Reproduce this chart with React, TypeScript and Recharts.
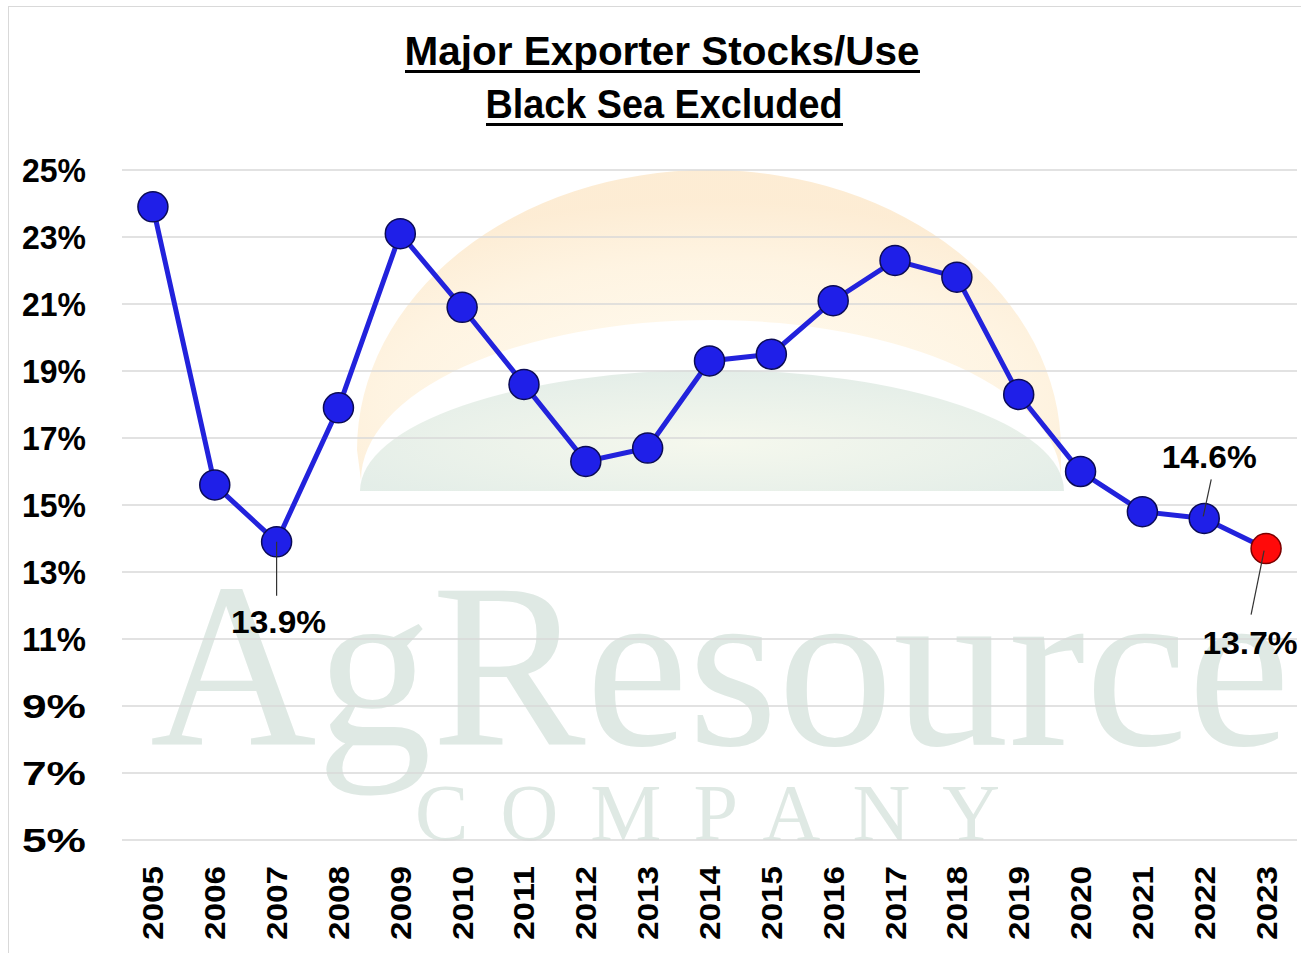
import { LineChart, Line, XAxis, YAxis, CartesianGrid, LabelList } from "recharts";

const years = [
  "2005", "2006", "2007", "2008", "2009", "2010", "2011", "2012", "2013", "2014",
  "2015", "2016", "2017", "2018", "2019", "2020", "2021", "2022", "2023",
];
const stocksUse = [
  23.9, 15.6, 13.9, 17.9, 23.1, 20.9, 18.6, 16.3, 16.7, 19.3,
  19.5, 21.1, 22.3, 21.8, 18.3, 16.0, 14.8, 14.6, 13.7,
];
const yTicks = [5, 7, 9, 11, 13, 15, 17, 19, 21, 23, 25];
const highlightYear = "2023";
const calloutYears = ["2007", "2022", "2023"];

const data = years.map((year, i) => ({ year, value: stocksUse[i] }));

const FONT = "'Liberation Sans', Arial, sans-serif";

// where each callout's text and leader sit, relative to its point
const calloutPlacement: Record<string, { dx: number; dy: number; l1: number[]; l2: number[] }> = {
  "2007": { dx: 2, dy: 80, l1: [0, 0], l2: [0, 54] },
  "2022": { dx: 5, dy: -61, l1: [7, -39], l2: [-1, -2] },
  "2023": { dx: -16, dy: 94, l1: [-2, 2], l2: [-15, 66] },
};

const YearTick = (props: any) => {
  const { x, y, payload } = props;
  return (
    <text
      transform={`translate(${x},${y}) rotate(-90)`}
      textAnchor="end"
      dominantBaseline="central"
      fontFamily={FONT}
      fontWeight={700}
      fontSize={30}
      fill="#000"
      textLength={74}
      lengthAdjust="spacingAndGlyphs"
    >
      {payload.value}
    </text>
  );
};

const PctTick = (props: any) => {
  const { x, y, payload } = props;
  return (
    <text
      x={x}
      y={y}
      textAnchor="end"
      dominantBaseline="central"
      fontFamily={FONT}
      fontWeight={700}
      fontSize={33}
      fill="#000"
      textLength={64}
      lengthAdjust="spacingAndGlyphs"
    >
      {payload.value}%
    </text>
  );
};

const Marker = (props: any) => {
  const { cx, cy, payload } = props;
  if (cx == null || cy == null) return null;
  const hot = payload.year === highlightYear;
  return (
    <circle
      key={payload.year}
      cx={cx}
      cy={cy}
      r={15}
      fill={hot ? "#ff0a0a" : "#1f1fe8"}
      stroke={hot ? "#7a0000" : "#0b0b55"}
      strokeWidth={1.5}
    />
  );
};

const Callout = (props: any) => {
  const { x, y, value, index } = props;
  const year = years[index];
  if (!calloutYears.includes(year)) return null;
  const p = calloutPlacement[year];
  return (
    <g>
      <line
        x1={x + p.l1[0]}
        y1={y + p.l1[1]}
        x2={x + p.l2[0]}
        y2={y + p.l2[1]}
        stroke="#333"
        strokeWidth={1.2}
      />
      <text
        x={x + p.dx}
        y={y + p.dy}
        textAnchor="middle"
        dominantBaseline="central"
        fontFamily={FONT}
        fontWeight={700}
        fontSize={32}
        fill="#000"
        textLength={95}
        lengthAdjust="spacingAndGlyphs"
      >
        {Number(value).toFixed(1)}%
      </text>
    </g>
  );
};

const Backdrop = () => (
  <svg width={1301} height={953} style={{ position: "absolute", left: 0, top: 0 }}>
    <defs>
      <radialGradient id="sun" cx="50%" cy="75%" r="65%">
        <stop offset="0%" stopColor="#fffbee" />
        <stop offset="70%" stopColor="#fef0d8" />
        <stop offset="100%" stopColor="#fce6c6" />
      </radialGradient>
      <radialGradient id="hill" cx="50%" cy="60%" r="60%">
        <stop offset="0%" stopColor="#f1f5e6" />
        <stop offset="100%" stopColor="#d8e6de" />
      </radialGradient>
    </defs>
    <rect x={8.5} y={6.5} width={1300} height={960} fill="#fff" stroke="#d9d9d9" />
    <path
      d="M 357 450 A 352 280 0 0 1 1061 450 L 1061 480 A 350 160 0 0 0 361 480 Z"
      fill="url(#sun)"
      opacity={0.75}
    />
    <path d="M 360 491 A 352 121 0 0 1 1064 491 Z" fill="url(#hill)" opacity={0.7} />
    <text
      x={150}
      y={745}
      fontFamily="'Liberation Serif', 'DejaVu Serif', serif"
      fontSize={235}
      fill="#dfe9e4"
      textLength={1140}
      lengthAdjust="spacingAndGlyphs"
    >
      AgResource
    </text>
    <text
      x={415}
      y={840}
      fontFamily="'Liberation Serif', 'DejaVu Serif', serif"
      fontSize={80}
      fill="#dfe9e4"
      textLength={585}
      lengthAdjust="spacing"
    >
      COMPANY
    </text>
    <text
      x={662}
      y={65}
      textAnchor="middle"
      fontFamily={FONT}
      fontWeight={700}
      fontSize={40}
      fill="#000"
      textLength={515}
      lengthAdjust="spacingAndGlyphs"
    >
      Major Exporter Stocks/Use
    </text>
    <rect x={405} y={70} width={515} height={3} fill="#000" />
    <text
      x={664}
      y={118}
      textAnchor="middle"
      fontFamily={FONT}
      fontWeight={700}
      fontSize={40}
      fill="#000"
      textLength={357}
      lengthAdjust="spacingAndGlyphs"
    >
      Black Sea Excluded
    </text>
    <rect x={486} y={123} width={357} height={3} fill="#000" />
  </svg>
);

export default function App() {
  return (
    <div style={{ position: "absolute", left: 0, top: 0, width: 1301, height: 953, background: "#fff" }}>
      <Backdrop />
      <div style={{ position: "absolute", left: 0, top: 0 }}>
        <LineChart width={1301} height={953} data={data} margin={{ top: 170, right: 4, left: 12, bottom: 3 }}>
          <CartesianGrid vertical={false} stroke="#d9d9d9" strokeWidth={1.5} />
          <XAxis
            dataKey="year"
            scale="band"
            axisLine={false}
            tickLine={false}
            tickSize={0}
            tickMargin={26}
            interval={0}
            height={110}
            tick={<YearTick />}
          />
          <YAxis
            type="number"
            domain={[5, 25]}
            ticks={yTicks}
            axisLine={false}
            tickLine={false}
            tickSize={0}
            tickMargin={36}
            width={110}
            tick={<PctTick />}
          />
          <Line
            dataKey="value"
            stroke="#2222dc"
            strokeWidth={5}
            dot={<Marker />}
            activeDot={false}
            isAnimationActive={false}
          >
            <LabelList dataKey="value" content={<Callout />} />
          </Line>
        </LineChart>
      </div>
    </div>
  );
}
